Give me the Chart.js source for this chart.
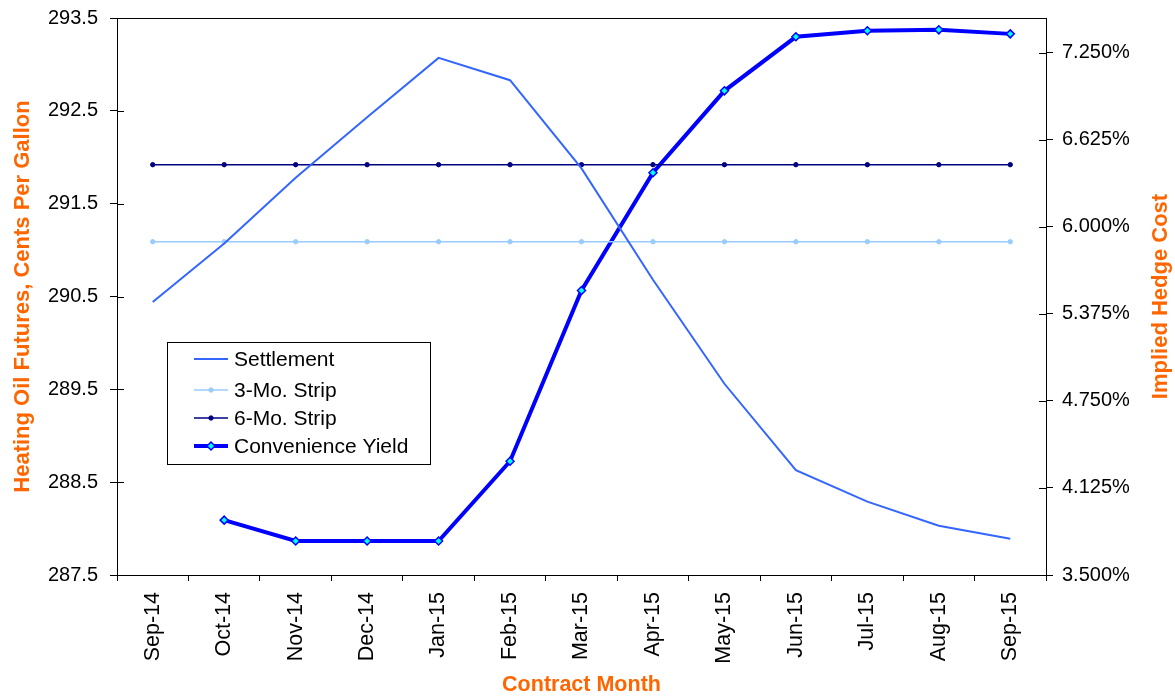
<!DOCTYPE html>
<html>
<head>
<meta charset="utf-8">
<script src="https://cdn.jsdelivr.net/npm/chart.js@4.4.1/dist/chart.umd.min.js"></script>
<style>
  html, body { margin: 0; padding: 0; background: #fff; }
  #wrap { width: 1175px; height: 696px; }
</style>
</head>
<body>
<div id="wrap"><canvas id="c" width="1175" height="696"></canvas></div>
<script>
// Contract months along the curve
const months = ['Sep-14', 'Oct-14', 'Nov-14', 'Dec-14', 'Jan-15', 'Feb-15', 'Mar-15',
                'Apr-15', 'May-15', 'Jun-15', 'Jul-15', 'Aug-15', 'Sep-15'];

// Heating oil futures settlement, cents per gallon
const settlement = [290.44, 291.07, 291.78, 292.43, 293.07, 292.83, 291.88,
                    290.68, 289.56, 288.63, 288.29, 288.03, 287.89];

// Strip averages, cents per gallon
const strip3 = [291.09, 291.09, 291.09, 291.09, 291.09, 291.09, 291.09,
                291.09, 291.09, 291.09, 291.09, 291.09, 291.09];
const strip6 = [291.92, 291.92, 291.92, 291.92, 291.92, 291.92, 291.92,
                291.92, 291.92, 291.92, 291.92, 291.92, 291.92];

// Convenience yield, implied hedge cost in percent
const convYield = [null, 3.894, 3.744, 3.744, 3.744, 4.317, 5.543,
                   6.389, 6.977, 7.365, 7.408, 7.415, 7.386];

// Tick labels
const leftTicks = [287.5, 288.5, 289.5, 290.5, 291.5, 292.5, 293.5];
const rightTicks = [3.5, 4.125, 4.75, 5.375, 6.0, 6.625, 7.25];

const FONT = "'Liberation Sans', Arial, sans-serif";
const ORANGE = '#FF6600';
const RIGHT_TITLE = 'Implied Hedge Cost';

// Value axes keep the plot edges fixed: no extra room for half-height end labels
function fixVertical(width) {
  return s => { s.width = width; s.paddingTop = 0; s.paddingBottom = 0; };
}

// Frame around the plot, ticks that cross the value axes, right-hand title and the boxed legend
const framePlugin = {
  id: 'frame',
  afterDraw(chart) {
    const ctx = chart.ctx;
    const a = chart.chartArea;
    ctx.save();
    ctx.strokeStyle = '#000';
    ctx.lineWidth = 1;
    ctx.strokeRect(Math.round(a.left) + 0.5, Math.round(a.top) + 0.5,
                   Math.round(a.right - a.left), Math.round(a.bottom - a.top));
    // inner half of the value-axis ticks
    ['y', 'y1'].forEach(id => {
      const s = chart.scales[id];
      const x0 = id === 'y' ? a.left : a.right;
      const dir = id === 'y' ? 1 : -1;
      s.ticks.forEach(t => {
        const py = Math.round(s.getPixelForValue(t.value)) + 0.5;
        ctx.beginPath();
        ctx.moveTo(x0, py);
        ctx.lineTo(x0 + dir * 7, py);
        ctx.stroke();
      });
    });

    // right-hand axis title, reading bottom to top
    ctx.save();
    ctx.translate(chart.width - 14, (a.top + a.bottom) / 2);
    ctx.rotate(-Math.PI / 2);
    ctx.font = 'bold 22px ' + FONT;
    ctx.fillStyle = ORANGE;
    ctx.textAlign = 'center';
    ctx.textBaseline = 'middle';
    ctx.fillText(RIGHT_TITLE, 0, 0);
    ctx.restore();

    // legend
    const bx = a.left + 50, by = a.top + 324, bw = 263, bh = 122;
    ctx.fillStyle = '#fff';
    ctx.fillRect(bx, by, bw, bh);
    ctx.strokeStyle = '#000';
    ctx.lineWidth = 1;
    ctx.strokeRect(bx + 0.5, by + 0.5, bw, bh);
    ctx.font = '21px ' + FONT;
    ctx.textBaseline = 'middle';
    ctx.textAlign = 'left';
    const rowY = [17, 48, 76, 104];
    chart.data.datasets.forEach((ds, i) => {
      const y = by + rowY[i];
      const x1 = bx + 27, x2 = bx + 61;
      ctx.strokeStyle = ds.borderColor;
      ctx.lineWidth = ds.borderWidth;
      ctx.beginPath();
      ctx.moveTo(x1, y);
      ctx.lineTo(x2, y);
      ctx.stroke();
      if (ds.pointRadius > 0) {
        const r = ds.pointRadius;
        const cx = (x1 + x2) / 2;
        ctx.fillStyle = ds.pointBackgroundColor;
        ctx.strokeStyle = ds.pointBorderColor;
        ctx.lineWidth = ds.pointBorderWidth;
        ctx.beginPath();
        if (ds.pointStyle === 'rectRot') {
          ctx.moveTo(cx, y - r); ctx.lineTo(cx + r, y); ctx.lineTo(cx, y + r); ctx.lineTo(cx - r, y);
          ctx.closePath();
        } else {
          ctx.arc(cx, y, r, 0, Math.PI * 2);
        }
        ctx.fill();
        ctx.stroke();
      }
      ctx.fillStyle = '#000';
      ctx.fillText(ds.label, bx + 67, y + 1);
    });
    ctx.restore();
  }
};

new Chart(document.getElementById('c'), {
  type: 'line',
  data: {
    labels: months,
    datasets: [
      {
        label: 'Settlement',
        data: settlement,
        yAxisID: 'y',
        borderColor: '#3366FF',
        borderWidth: 2,
        pointRadius: 0,
        pointBackgroundColor: '#3366FF',
        pointBorderColor: '#3366FF',
        pointBorderWidth: 1,
        tension: 0
      },
      {
        label: '3-Mo. Strip',
        data: strip3,
        yAxisID: 'y',
        borderColor: '#99CCFF',
        borderWidth: 1.5,
        pointRadius: 2.2,
        pointStyle: 'circle',
        pointBackgroundColor: '#99CCFF',
        pointBorderColor: '#99CCFF',
        pointBorderWidth: 1,
        tension: 0
      },
      {
        label: '6-Mo. Strip',
        data: strip6,
        yAxisID: 'y',
        borderColor: '#000080',
        borderWidth: 1.5,
        pointRadius: 2.2,
        pointStyle: 'circle',
        pointBackgroundColor: '#000080',
        pointBorderColor: '#000080',
        pointBorderWidth: 1,
        tension: 0
      },
      {
        label: 'Convenience Yield',
        data: convYield,
        yAxisID: 'y1',
        borderColor: '#0000FF',
        borderWidth: 4,
        pointRadius: 4,
        pointStyle: 'rectRot',
        pointBackgroundColor: '#00FFFF',
        pointBorderColor: '#0000FF',
        pointBorderWidth: 1.5,
        spanGaps: false,
        tension: 0
      }
    ]
  },
  options: {
    responsive: false,
    animation: false,
    events: [],
    layout: { padding: { top: 18, left: 0, right: 0, bottom: 0 } },
    plugins: { legend: { display: false }, tooltip: { enabled: false } },
    scales: {
      x: {
        type: 'category',
        offset: true,
        grid: { offset: true, drawOnChartArea: false, color: '#000', tickLength: 6, tickColor: '#000' },
        border: { color: '#000', width: 1 },
        ticks: {
          color: '#000',
          font: { family: FONT, size: 21.5 },
          minRotation: 90, maxRotation: 90,
          padding: 11,
          autoSkip: false
        },
        title: {
          display: true,
          text: 'Contract Month',
          color: ORANGE,
          font: { family: FONT, size: 21.5, weight: 'bold', lineHeight: 1 },
          padding: { top: 0, bottom: 0 }
        },
        afterFit(s) { s.height = 121; s.paddingLeft = 0; s.paddingRight = 0; }
      },
      y: {
        position: 'left',
        min: 287.5,
        max: 293.5,
        afterBuildTicks(s) { s.ticks = leftTicks.map(v => ({ value: v })); },
        grid: { drawOnChartArea: false, color: '#000', tickLength: 7, tickColor: '#000' },
        border: { color: '#000', width: 1 },
        ticks: {
          color: '#000',
          font: { family: FONT, size: 20 },
          padding: 12,
          callback: v => Number(v).toFixed(1)
        },
        title: {
          display: true,
          text: 'Heating Oil Futures, Cents Per Gallon',
          color: ORANGE,
          font: { family: FONT, size: 22, weight: 'bold', lineHeight: 1 },
          padding: { top: 12, bottom: 0 }
        },
        afterFit: fixVertical(117)
      },
      y1: {
        position: 'right',
        min: 3.5,
        max: 7.5,
        afterBuildTicks(s) { s.ticks = rightTicks.map(v => ({ value: v })); },
        grid: { drawOnChartArea: false, color: '#000', tickLength: 7, tickColor: '#000' },
        border: { color: '#000', width: 1 },
        ticks: {
          color: '#000',
          font: { family: FONT, size: 20 },
          padding: 9,
          callback: v => Number(v).toFixed(3) + '%'
        },
        title: { display: false },
        afterFit: fixVertical(129)
      }
    }
  },
  plugins: [framePlugin]
});
</script>
</body>
</html>
